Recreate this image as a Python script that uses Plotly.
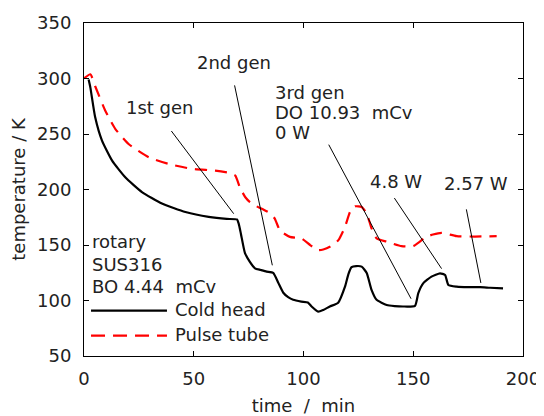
import plotly.graph_objects as go

# ---- data ----
cold_t = [2.1, 2.9, 5.1, 8.2, 12.8, 18.8, 26.4, 35.5, 46.2, 56.8, 65.0, 69.7, 70.5, 71.5,
          73.3, 75.5, 77.9, 80.5, 83.2, 86.2, 88.5, 90.8, 93.0, 95.3, 99.0, 102.0, 103.7,
          106.7, 109.0, 112.0, 115.8, 118.9, 120.5, 121.9, 124.0, 126.5, 128.8, 131.0,
          133.3, 137.9, 141.5, 145.3, 150.8, 152.3, 154.6, 158.3, 162.2, 164.5, 166.0,
          169.8, 175.0, 180.4, 185.0, 190.9]
cold_T = [299, 291.8, 265, 244, 226, 211, 197.7, 187.3, 179.7, 175.3, 173.5, 173, 169, 160,
          143, 135, 129, 127.5, 126, 124.8, 116, 107, 103, 100.6, 99, 98.2, 94.6,
          90, 91.5, 94.6, 98, 112.5, 124, 130, 131, 130.5, 124.8, 109.6,
          100.6, 96, 95, 94.6, 95.2, 106.6, 115.6, 121.5, 124.5, 123, 114,
          112.5, 112, 112, 111.5, 111]

pulse_t = [0, 2.9, 5.1, 9.7, 14.3, 20.3, 29.5, 38.6, 49.2, 59.8, 66.0, 68.9, 71.0, 73.5,
           75.6, 78.5, 81.7, 84.5, 86.9, 89.3, 93.8, 99.2, 103.0, 106.7, 109.0, 112.0,
           115.9, 118.9, 121.2, 123.5, 126.5, 128.8, 131.0, 133.3, 137.9, 144.7, 150.0,
           153.0, 155.4, 159.0, 163.0, 169.8, 178.0, 188.0]
pulse_T = [300, 303.8, 293, 271, 254.5, 241, 229, 223, 218.6, 217, 215, 212.6, 202, 193,
           188.7, 185, 182, 179, 173.8, 163, 157.3, 155.8, 150, 145.4, 146, 148.4,
           154.4, 166.3, 179.7, 184.8, 184.2, 178.3, 165, 156, 153, 149, 149,
           153, 156.8, 159.5, 161, 158, 157.6, 158]

x_ticks = [0, 50, 100, 150, 200]
y_ticks = [50, 100, 150, 200, 250, 300, 350]

# leader lines for the labels: (x0, y0, x1, y1)
leader_lines = [
    (39.8, 252.7, 68.2, 178.2),
    (68.6, 293.8, 85.8, 131.7),
    (111.5, 240.4, 149.0, 101.6),
    (141.4, 192.3, 162.9, 128.7),
    (174.2, 182.1, 180.8, 115.8),
]

# label texts with anchor positions in data units
labels = [
    ("1st gen", 34.8, 273.5, "center"),
    ("2nd gen", 68.5, 314.5, "center"),
    ("3rd gen", 86.3, 287.8, "left"),
    ("DO 10.93\u00a0 mCv", 86.3, 269.8, "left"),
    ("0 W", 86.3, 251.0, "left"),
    ("4.8 W", 142.1, 207.5, "center"),
    ("2.57 W", 178.6, 205.5, "center"),
    ("rotary", 2.6, 153.0, "left"),
    ("SUS316", 2.6, 132.5, "left"),
    ("BO 4.44\u00a0 mCv", 2.6, 112.5, "left"),
]

series_names = ["Cold head", "Pulse tube"]

FONT = "DejaVu Sans"
TXT = "#222222"

fig = go.Figure()
fig.add_trace(go.Scatter(x=cold_t, y=cold_T, mode="lines", name=series_names[0],
                         line=dict(color="black", width=2.2, shape="spline", smoothing=0.5),
                         showlegend=False))
fig.add_trace(go.Scatter(x=pulse_t, y=pulse_T, mode="lines", name=series_names[1],
                         line=dict(color="#ff0000", width=2.2, dash="12px,8px",
                                   shape="spline", smoothing=0.5),
                         showlegend=False))

shapes = []
for (x0, y0, x1, y1) in leader_lines:
    shapes.append(dict(type="line", xref="x", yref="y", x0=x0, y0=y0, x1=x1, y1=y1,
                       line=dict(color="black", width=1)))

# legend samples (drawn manually to get the long sample lines)
leg_x0, leg_x1, leg_text_x = 3.2, 37.8, 40.5
leg_rows = [(90.8, "black", "solid"), (68.3, "#ff0000", "14px,8px")]
for (yy, col, dsh), name in zip(leg_rows, series_names):
    shapes.append(dict(type="line", xref="x", yref="y", x0=leg_x0, x1=leg_x1, y0=yy, y1=yy,
                       line=dict(color=col, width=2.2, dash=dsh)))

annotations = []
for text, x, y, anchor in labels:
    annotations.append(dict(text=text, x=x, y=y, xref="x", yref="y", xanchor=anchor,
                            yanchor="middle", showarrow=False,
                            font=dict(family=FONT, size=18, color=TXT)))
for (yy, col, dsh), name in zip(leg_rows, series_names):
    annotations.append(dict(text=name, x=leg_text_x, y=yy + 1.5, xref="x", yref="y",
                            xanchor="left", yanchor="middle", showarrow=False,
                            font=dict(family=FONT, size=18, color=TXT)))

# the page body has an 8px margin, so the figure is 8px smaller and left/top margins shifted
fig.update_layout(
    width=536, height=408,
    margin=dict(l=76, r=21, t=15, b=60),
    paper_bgcolor="white", plot_bgcolor="white",
    font=dict(family=FONT, size=18, color=TXT),
    shapes=shapes, annotations=annotations,
    showlegend=False,
)
fig.update_xaxes(range=[0, 200], tickvals=x_ticks, ticks="inside", ticklen=5,
                 tickcolor="black", showline=True, linecolor="black", linewidth=1,
                 mirror="ticks", showgrid=False, zeroline=False, automargin=False,
                 ticklabelstandoff=6, ticklabeloverflow="allow",
                 title=dict(text="time\u00a0 /\u00a0 min", standoff=14,
                            font=dict(family=FONT, size=18, color=TXT)))
fig.update_yaxes(range=[50, 350], tickvals=y_ticks, ticks="inside", ticklen=5,
                 tickcolor="black", showline=True, linecolor="black", linewidth=1,
                 mirror="ticks", showgrid=False, zeroline=False, automargin=False,
                 ticklabelstandoff=8, ticklabeloverflow="allow",
                 title=dict(text="temperature / K", standoff=7,
                            font=dict(family=FONT, size=18, color=TXT)))

fig.write_html("out.html")
